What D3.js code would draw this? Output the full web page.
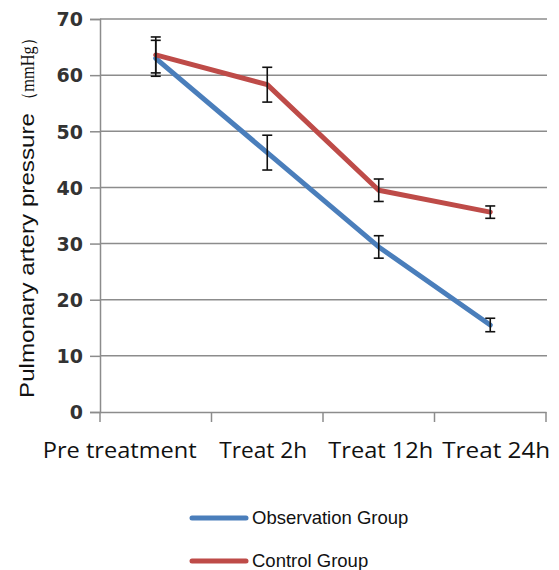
<!DOCTYPE html>
<html><head><meta charset="utf-8">
<script src="https://cdn.jsdelivr.net/npm/d3@7/dist/d3.min.js"></script>
<style>body{margin:0;background:#fff}</style>
</head><body>
<script>
const categories = ["Pre treatment", "Treat 2h", "Treat 12h", "Treat 24h"];
const observation = [63.0, 46.2, 29.4, 15.5];
const observationErr = [3.2, 3.1, 2.0, 1.2];
const control = [63.6, 58.3, 39.5, 35.6];
const controlErr = [3.2, 3.1, 2.0, 1.1];
const yTicks = [0, 10, 20, 30, 40, 50, 60, 70];
const seriesNames = ["Observation Group", "Control Group"];
const colors = ["#4a7ebb", "#be4b48"];

const W = 559, H = 570;
const svg = d3.select("body").append("svg").attr("width", W).attr("height", H);
const pL = 100, pR = 546, pT = 19, pB = 412;

const x = d3.scaleBand().domain(categories).range([pL, pR]).padding(0);
const y = d3.scaleLinear().domain([0, 70]).range([pB, pT]);

// gridlines
svg.append("g").selectAll("line").data(yTicks.filter(d => d > 0)).join("line")
  .attr("x1", pL).attr("x2", pR + 1)
  .attr("y1", d => y(d)).attr("y2", d => y(d))
  .attr("stroke", "#8c8c8c").attr("stroke-width", 1.5);

// y axis
const yAxis = svg.append("g").attr("transform", `translate(${pL},0)`)
  .call(d3.axisLeft(y).tickValues(yTicks).tickSize(10).tickPadding(7));
yAxis.select(".domain").attr("stroke", "#8c8c8c").attr("stroke-width", 1.5);
yAxis.selectAll(".tick line").attr("stroke", "#8c8c8c").attr("stroke-width", 1.5);
yAxis.selectAll(".tick text").attr("font-family", "DejaVu Sans, sans-serif")
  .attr("font-size", 19).attr("font-weight", "bold").attr("fill", "#333")
  .attr("dy", "0.36em");

// x axis
const xAxis = svg.append("g").attr("transform", `translate(0,${pB})`)
  .call(d3.axisBottom(x).tickSize(0).tickPadding(30));
xAxis.select(".domain").attr("stroke", "#8c8c8c").attr("stroke-width", 1.5);
const labelWidths = [154, 88, 105, 108];
const labelShift = [-36, -4, 2, 6];
xAxis.selectAll(".tick text").attr("font-family", "Open Sans, sans-serif")
  .attr("font-size", 22).attr("fill", "#111")
  .attr("textLength", (d, i) => labelWidths[i]).attr("lengthAdjust", "spacingAndGlyphs")
  .attr("dx", (d, i) => labelShift[i]);
const bounds = categories.map(c => x(c)).concat([x(categories[categories.length - 1]) + x.bandwidth()]);
xAxis.append("g").selectAll("line").data(bounds).join("line")
  .attr("x1", d => d).attr("x2", d => d).attr("y1", 0).attr("y2", 10)
  .attr("stroke", "#8c8c8c").attr("stroke-width", 1.5);

// y title
svg.append("text")
  .attr("transform", `translate(34,398) rotate(-90)`)
  .attr("text-anchor", "start").attr("font-family", "Liberation Sans, Arial, sans-serif")
  .attr("font-size", 20).attr("fill", "#111")
  .attr("textLength", 285).attr("lengthAdjust", "spacingAndGlyphs")
  .text("Pulmonary artery pressure");
svg.append("text")
  .attr("transform", `translate(34,108) rotate(-90)`)
  .attr("text-anchor", "start").attr("font-family", "Liberation Serif, serif")
  .attr("font-size", 18).attr("fill", "#111")
  .attr("textLength", 78).attr("lengthAdjust", "spacingAndGlyphs")
  .text("（mmHg）");

const cx = c => x(c) + x.bandwidth() / 2;
const line = d3.line().x((d, i) => cx(categories[i])).y(d => y(d));

const series = [
  {vals: observation, err: observationErr, color: colors[0]},
  {vals: control, err: controlErr, color: colors[1]}
];

series.forEach(s => {
  svg.append("path").datum(s.vals).attr("d", line)
    .attr("fill", "none").attr("stroke", s.color).attr("stroke-width", 5)
    .attr("stroke-linejoin", "round").attr("stroke-linecap", "round");
});

// error bars
series.forEach(s => {
  const g = svg.append("g").attr("stroke", "#111").attr("stroke-width", 1.6);
  s.vals.forEach((v, i) => {
    const px = cx(categories[i]);
    const y1 = y(v + s.err[i]), y2 = y(v - s.err[i]);
    g.append("line").attr("x1", px).attr("x2", px).attr("y1", y1).attr("y2", y2);
    g.append("line").attr("x1", px - 5).attr("x2", px + 5).attr("y1", y1).attr("y2", y1);
    g.append("line").attr("x1", px - 5).attr("x2", px + 5).attr("y1", y2).attr("y2", y2);
  });
});

// legend
const legY = [518, 561];
seriesNames.forEach((n, i) => {
  svg.append("line").attr("x1", 192).attr("x2", 246).attr("y1", legY[i]).attr("y2", legY[i])
    .attr("stroke", colors[i]).attr("stroke-width", 5).attr("stroke-linecap", "round");
  svg.append("text").attr("x", 252).attr("y", legY[i] + 6)
    .attr("font-family", "Liberation Sans, Arial, sans-serif").attr("font-size", 18.5)
    .attr("fill", "#111").text(n);
});
</script>
</body></html>
